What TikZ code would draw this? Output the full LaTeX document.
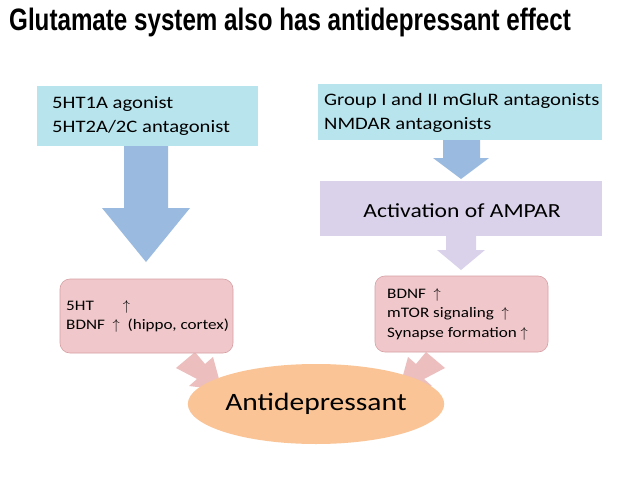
\documentclass[tikz,border=0pt]{standalone}
\usepackage{fontspec}
\setmainfont{Carlito}[FakeStretch=1.18]
\newfontfamily\titlefont{Liberation Sans}[FakeStretch=0.78]
\usetikzlibrary{shapes.geometric}
\definecolor{cyanbox}{RGB}{184,228,237}
\definecolor{bluearr}{RGB}{155,186,224}
\definecolor{lav}{RGB}{218,210,234}
\definecolor{pinkb}{RGB}{240,200,203}
\definecolor{pinkl}{RGB}{215,160,165}
\definecolor{pinka}{RGB}{236,190,190}
\definecolor{orng}{RGB}{250,196,150}
\begin{document}
\begin{tikzpicture}[x=1pt,y=-1pt,
  pbox/.style={fill=pinkb,draw=pinkl,line width=0.6pt,rounded corners=10pt}]
\useasboundingbox[fill=white] (0,0) rectangle (638,479);
\node[anchor=west,inner sep=0pt,font=\titlefont\bfseries\fontsize{31}{34}\selectfont] (t) at (9,22) {Glutamate system also has antidepressant effect};
% boxes
\fill[cyanbox] (37,86) rectangle (258,146);
\node[anchor=west,align=left,inner sep=0pt,font=\fontsize{17.5}{24}\selectfont] (b1) at (52,116) {5HT1A agonist\\5HT2A/2C antagonist};
\fill[cyanbox] (318,84) rectangle (602,140);
\node[anchor=west,align=left,inner sep=0pt,font=\fontsize{17.5}{24}\selectfont] (b2) at (324,113) {Group I and II mGluR antagonists\\NMDAR antagonists};
\fill[lav] (320,181) rectangle (602,236);
\node[font=\fontsize{20}{24}\selectfont] (b3) at (462,211) {Activation of AMPAR};
% block arrows
\fill[bluearr] (124,146) -- (168,146) -- (168,208) -- (190,208) -- (146,262) -- (102,208) -- (124,208) -- cycle;
\fill[bluearr] (443,140) -- (480,140) -- (480,158) -- (489,158) -- (461,179) -- (433,158) -- (443,158) -- cycle;
\fill[lav] (446,236) -- (476,236) -- (476,250) -- (485,250) -- (461,270) -- (437,250) -- (446,250) -- cycle;
% pink arrows
\fill[pinka] (176,368) -- (195,352) -- (205,364) -- (213,357) -- (222,390) -- (189,386) -- (197,379) -- cycle;
\fill[pinka] (445,368) -- (426,352) -- (416,364) -- (408,357) -- (399,390) -- (432,386) -- (424,379) -- cycle;
% pink boxes
\draw[pbox] (60,279) rectangle (233,353);
\node[anchor=west,align=left,inner sep=0pt,font=\fontsize{14.5}{19}\selectfont] (p1) at (66,316) {5HT\qquad$\uparrow$\\BDNF\ \ $\uparrow$\ \ (hippo, cortex)};
\draw[pbox] (375,276) rectangle (548,352);
\node[anchor=west,align=left,inner sep=0pt,font=\fontsize{14.5}{19.5}\selectfont] (p2) at (387,314) {BDNF\ \ $\uparrow$\\mTOR signaling\ \ $\uparrow$\\Synapse formation $\uparrow$};
\node[ellipse,fill=orng,inner sep=0pt,minimum width=196pt,minimum height=80pt,font=\fontsize{25}{30}\selectfont] (a) at (316,404) {Antidepressant};
\end{tikzpicture}
\end{document}
